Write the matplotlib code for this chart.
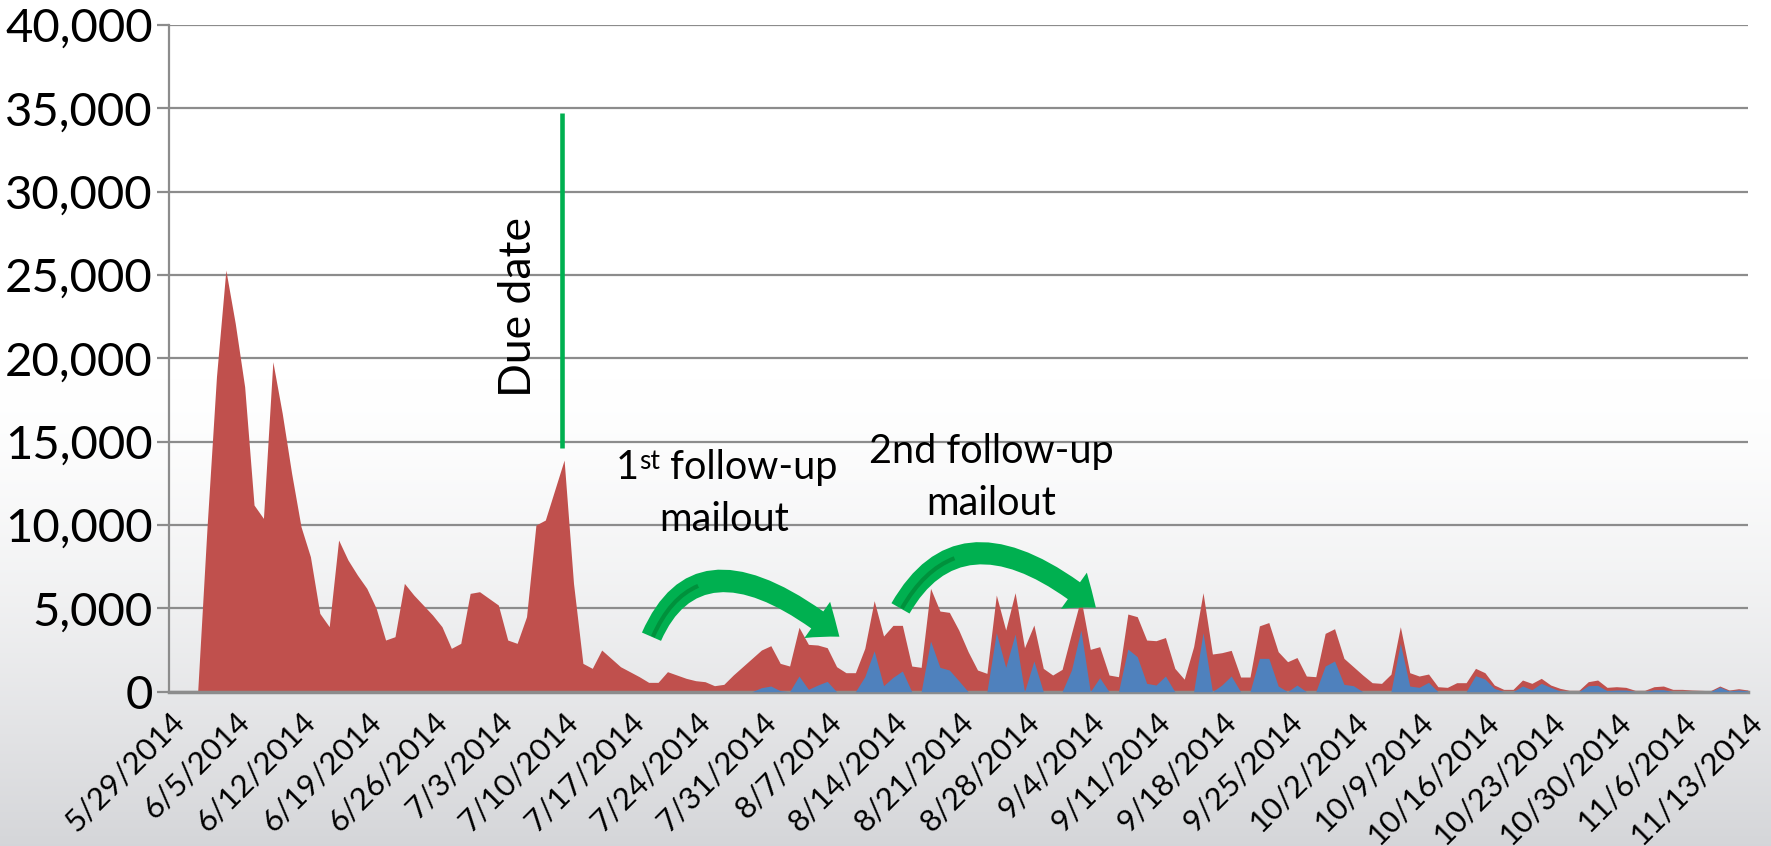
"Daily returns with the due date and the two follow-up mailouts marked."
import numpy as np
import pandas as pd
import matplotlib
matplotlib.use("Agg")
import matplotlib.pyplot as plt
import matplotlib.transforms as mtrans
from matplotlib.patches import FancyArrowPatch, PathPatch
from matplotlib.path import Path
from matplotlib.ticker import FuncFormatter

plt.rcParams['font.family'] = ['Lato', 'DejaVu Sans']

start_date = "2014-05-29"

# all returns per day (red)
total = [0, 0, 0, 0, 9900, 18900, 25300, 22100, 18300, 11200,
         10400, 19800, 16700, 13100, 9900, 8100, 4700, 3900, 9100, 7900,
         7000, 6200, 5000, 3100, 3300, 6500, 5800, 5200, 4600, 3900,
         2600, 2900, 5900, 6000, 5600, 5200, 3100, 2900, 4500, 10000,
         10300, 12100, 13900, 6500, 1700, 1400, 2500, 2000, 1500, 1200,
         900, 560, 560, 1200, 1000, 800, 660, 600, 360, 440,
         1000, 1500, 2000, 2500, 2760, 1700, 1540, 3860, 2840, 2800,
         2640, 1500, 1140, 1140, 2600, 5460, 3340, 3980, 3980, 1540,
         1460, 6200, 4840, 4760, 3700, 2400, 1300, 1100, 5800, 3700,
         5940, 2640, 4000, 1400, 1000, 1340, 3500, 5600, 2540, 2700,
         1000, 900, 4660, 4500, 3100, 3060, 3250, 1400, 750, 2700,
         5940, 2260, 2340, 2480, 880, 880, 3950, 4150, 2400, 1800,
         2050, 940, 900, 3500, 3780, 2000, 1500, 1000, 540, 500,
         1050, 3900, 1140, 940, 1060, 300, 260, 540, 540, 1400,
         1140, 400, 140, 140, 700, 500, 800, 400, 200, 80,
         80, 600, 700, 260, 300, 260, 80, 80, 300, 340,
         140, 140, 100, 80, 60, 340, 100, 180, 100]

# the part of them that came in after a follow-up (blue)
followup = [0] * 62 + [
    0, 240, 340, 60, 0, 940, 140, 400, 620, 0,
    0, 0, 900, 2450, 360, 860, 1240, 0, 0, 3040,
    1460, 1300, 660, 0, 0, 0, 3540, 1460, 3460, 0,
    1840, 0, 0, 0, 1300, 3700, 0, 840, 0, 0,
    2560, 2100, 500, 400, 940, 0, 0, 0, 3540, 0,
    400, 940, 0, 0, 2000, 2000, 340, 0, 400, 0,
    0, 1540, 1840, 440, 360, 0, 0, 0, 0, 2900,
    340, 260, 560, 0, 0, 0, 0, 960, 760, 200,
    0, 0, 340, 120, 500, 260, 40, 0, 0, 360,
    380, 60, 100, 100, 0, 0, 120, 120, 0, 0,
    0, 0, 0, 280, 40, 100, 40]

yticks = list(range(0, 40001, 5000))

dates = pd.date_range(start_date, periods=len(total), freq="D")
x = np.arange(len(total))
week_idx = x[::7]
week_labels = [f"{d.month}/{d.day}/{d.year}" for d in dates[::7]]

fig = plt.figure(figsize=(17.71, 8.46), dpi=100)

# grey-to-white background behind everything
bg = fig.add_axes([0, 0, 1, 1], zorder=-10)
f = np.linspace(0, 1, 400)
shade = np.clip((f - 0.45) / 0.55, 0, 1) ** 1.4
col = np.array([1.0, 1.0, 1.0]) - shade[:, None] * (1 - np.array([0.835, 0.839, 0.851]))
bg.imshow(col[:, None, :], aspect='auto', extent=[0, 1, 0, 1], origin='upper')
bg.axis('off')

ax = fig.add_axes([0.0957, 0.1824, 0.8913, 0.7879])
ax.set_facecolor('none')

ax.fill_between(x, total, color='#C0504D', lw=0, zorder=2)
ax.fill_between(x, followup, color='#4F81BD', lw=0, zorder=3)

ax.set_xlim(0, len(total) - 1)
ax.set_ylim(0, 40000)
ax.set_yticks(yticks)
ax.yaxis.set_major_formatter(FuncFormatter(lambda v, p: f"{int(v):,}"))
ax.set_xticks(week_idx)
ax.set_xticklabels(week_labels, rotation=45, ha='right', rotation_mode='anchor')
shift = mtrans.ScaledTranslation(6 / 72, 0, fig.dpi_scale_trans)
for lab in ax.get_xticklabels():
    lab.set_transform(lab.get_transform() + shift)

ax.set_axisbelow(True)
ax.yaxis.grid(True, color='#8c8c8c', lw=1.6)
for s in ['top', 'right']:
    ax.spines[s].set_visible(False)
ax.spines['left'].set_color('#8c8c8c')
ax.spines['left'].set_linewidth(1.6)
ax.spines['bottom'].set_color('#8c8c8c')
ax.spines['bottom'].set_linewidth(2.5)
ax.tick_params(axis='y', length=9, width=1.6, color='#8c8c8c', labelsize=34, pad=3)
ax.tick_params(axis='x', length=0, labelsize=22.5, pad=11)

# due date
ax.plot([41.8, 41.8], [14650, 34700], color='#00B050', lw=3.3, zorder=4,
        solid_capstyle='butt')
ax.text(37.1, 23100, "Due date", rotation=90, ha='center', va='center', fontsize=32)

# 1st follow-up label with superscript
t1 = ax.text(47.5, 12760, "1", fontsize=28.5, ha='left', va='baseline', zorder=6)
t2 = ax.annotate("st", xy=(1, 1), xycoords=t1, fontsize=19, ha='left', va='top', zorder=6)
ax.annotate(" follow-up", xy=(1, 0), xycoords=(t2, t1), fontsize=28.5,
            ha='left', va='bottom', zorder=6)
ax.text(59.0, 9640, "mailout", fontsize=28.5, ha='center', va='baseline', zorder=6)

ax.text(87.5, 13700, "2nd follow-up", fontsize=28.5, ha='center', va='baseline', zorder=6)
ax.text(87.5, 10600, "mailout", fontsize=28.5, ha='center', va='baseline', zorder=6)


def curved_arrow(p0, c, p1):
    path = Path([p0, c, p1], [Path.MOVETO, Path.CURVE3, Path.CURVE3])
    arr = FancyArrowPatch(path=path, mutation_scale=10, color='#00B050', lw=0, zorder=5,
                          arrowstyle="simple,head_length=2.0,head_width=3.2,tail_width=1.5")
    ax.add_patch(arr)
    # darker stripe inside the tail
    p0, c = np.array(p0), np.array(c)
    t = 0.35
    c1 = p0 + (c - p0) * t
    end = (1 - t) ** 2 * p0 + 2 * (1 - t) * t * c + t ** 2 * np.array(p1)
    off = np.array([0.15, 0])
    stripe = Path([p0 + off, c1 + off, end + off], [Path.MOVETO, Path.CURVE3, Path.CURVE3])
    ax.add_patch(PathPatch(stripe, fill=False, color='#00913c', lw=3, zorder=5.5,
                           capstyle='butt'))


curved_arrow((51.3, 3300), (56.5, 10000), (71.3, 3300))
curved_arrow((77.8, 5000), (84.5, 11600), (98.6, 5040))

fig.savefig("out.png", dpi=100)
